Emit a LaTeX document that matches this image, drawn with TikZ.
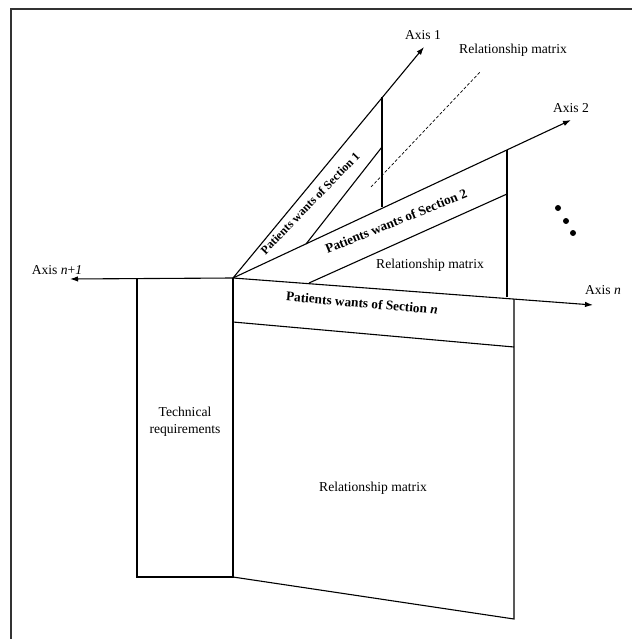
\documentclass[tikz,border=0pt]{standalone}
\usepackage{fontspec}
\setmainfont{Liberation Serif}
\usetikzlibrary{arrows.meta}
\begin{document}
\begin{tikzpicture}[x=1pt,y=-1pt,
  ln/.style={line width=1.1pt, black},
  ax/.style={line width=1.1pt, black, -{Latex[length=8pt,width=5.5pt]}},
  lbl/.style={font=\fontsize{13.6}{15}\selectfont, inner sep=0pt},
  blbl/.style={font=\fontsize{13.3}{15}\selectfont\bfseries, inner sep=0pt},
  dotmark/.style={circle, fill=black, inner sep=0pt, minimum size=6pt}]
\useasboundingbox (0,0) rectangle (632,639);
% frame
\coordinate (fa) at (11,639);
\coordinate (fb) at (11,9);
\coordinate (fc) at (632,9);
\draw[line width=1.6pt, black!80] (fa) -- (fb) -- (fc);
% key points
\coordinate (O) at (233,278);
\coordinate (A1) at (424,47);
\coordinate (A2) at (571,120);
\coordinate (An) at (593,305);
\coordinate (Anp) at (70,279);
\coordinate (v1t) at (382,97);
\coordinate (v1b) at (382,207);
\coordinate (s1a) at (306,244);
\coordinate (s1b) at (382,147);
\coordinate (v2t) at (507,150);
\coordinate (v2b) at (507,297);
\coordinate (s2a) at (309,283);
\coordinate (s2b) at (507,194);
\coordinate (d1) at (371,187);
\coordinate (d2) at (481,71);
\coordinate (tl) at (137,279);
\coordinate (tb) at (137,577);
\coordinate (ob) at (233,577);
\coordinate (mr) at (514,299);
\coordinate (mrb) at (514,619);
\coordinate (bl) at (233,322);
\coordinate (br) at (514,347);
% axes
\draw[ax] (O) -- (A1);
\draw[ax] (O) -- (A2);
\draw[ax] (O) -- (An);
\draw[ax] (O) -- (Anp);
% section 1
\draw[ln] (v1t) -- (v1b);
\draw[ln] (s1a) -- (s1b);
\draw[line width=0.7pt, dash pattern=on 3pt off 2pt] (d1) -- (d2);
% section 2
\draw[ln] (v2t) -- (v2b);
\draw[ln] (s2a) -- (s2b);
% technical requirements box
\draw[ln] (tl) -- (tb) -- (ob) -- (O);
% main matrix
\draw[ln] (mr) -- (mrb) -- (ob);
\draw[ln] (bl) -- (br);
% labels
\node[lbl] (l1) at (423,35) {Axis 1};
\node[lbl] (l2) at (571,108) {Axis 2};
\node[lbl] (ln1) at (603,290) {Axis \textit{n}};
\node[lbl] (lnp) at (57,270) {Axis \textit{n}+\textit{1}};
\node[lbl] (rm1) at (513,50) {Relationship matrix};
\node[lbl] (rm2) at (430,265) {Relationship matrix};
\node[lbl] (rm3) at (373,488) {Relationship matrix};
\node[lbl, align=center, font=\fontsize{13.6}{17}\selectfont] (tr) at (185,422) {Technical\\requirements};
\node[blbl, rotate=46, font=\fontsize{12}{14}\selectfont\bfseries] (p1) at (310,203) {Patients wants of Section 1};
\node[blbl, rotate=22] (p2) at (396,221) {Patients wants of Section 2};
\node[blbl, rotate=-5] (pn) at (362,303) {Patients wants of Section \textit{n}};
% dots
\node[dotmark] (dt1) at (558,208) {};
\node[dotmark] (dt2) at (566,221) {};
\node[dotmark] (dt3) at (573,233) {};
\end{tikzpicture}
\end{document}
